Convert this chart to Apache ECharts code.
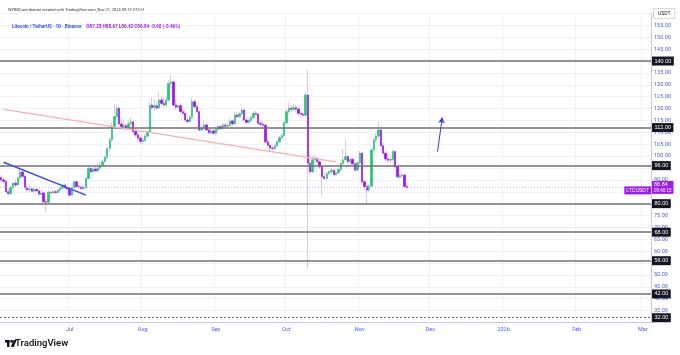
<!DOCTYPE html>
<html><head><meta charset="utf-8">
<script src="https://cdn.jsdelivr.net/npm/echarts@6/dist/echarts.min.js"></script>
<style>html,body{margin:0;padding:0;background:#fff}#c{width:680px;height:355px}</style>
</head><body><div id="c"></div>
<script>
// ---- axis range (categories) ----
const axisStart = '2025-06-02';
const axisEnd = '2026-03-04';
const dataStart = '2025-06-02';
const monthNames = {'01':'2026','02':'Feb','03':'Mar','04':'Apr','05':'May','06':'Jun','07':'Jul','08':'Aug','09':'Sep','10':'Oct','11':'Nov','12':'Dec'};

// ---- daily candles LTC/USDT (Jun 2 -> Nov 21, 2025) ----
const openVals = [91.0,90.0,89.4,85.0,84.2,86.8,88.6,87.9,90.8,93.3,91.5,86.6,85.8,86.2,85.2,86.0,85.4,84.0,84.5,80.8,80.6,84.8,84.6,85.0,84.7,85.6,86.5,87.8,86.6,86.2,
83.6,86.8,89.2,87.2,87.0,86.4,86.8,90.6,94.8,93.4,94.6,93.8,95.0,96.2,97.6,99.4,103.2,106.8,112.6,116.6,120.1,113.5,112.4,112.8,112.0,113.6,114.4,110.3,108.9,107.6,
106.2,106.6,108.4,110.3,121.5,120.4,121.2,120.2,123.6,122.2,121.5,123.6,130.6,131.2,121.5,120.6,121.2,118.7,118.0,115.2,114.6,116.4,122.9,120.8,118.7,111.0,111.8,113.1,111.0,109.8,
110.6,109.6,111.2,112.4,111.6,113.1,112.6,112.9,114.8,113.6,117.3,116.6,117.8,119.4,115.2,114.2,115.0,116.2,118.0,117.6,113.8,113.4,113.0,106.0,104.6,103.4,103.2,104.4,106.0,107.8,
108.6,114.0,118.7,120.1,119.6,120.4,119.8,118.0,117.6,117.2,125.7,97.0,93.4,98.5,99.0,97.6,95.5,91.4,90.6,92.7,93.4,94.0,92.2,93.0,94.4,96.9,98.4,99.8,97.6,98.6,
96.8,94.1,97.2,101.2,89.2,87.2,85.7,87.4,102.6,106.8,108.4,111.0,104.4,101.2,98.8,98.3,98.6,101.9,95.5,91.3,91.8,92.0,87.23];
const closeVals = [90.0,89.4,85.0,84.2,86.8,88.6,87.9,90.8,93.3,91.5,86.6,85.8,86.2,85.2,86.0,85.4,84.0,84.5,80.8,80.6,84.8,84.6,85.0,84.7,85.6,86.5,87.8,86.6,86.2,83.6,
86.8,89.2,87.2,87.0,86.4,86.8,90.6,94.8,93.4,94.6,93.8,95.0,96.2,97.6,99.4,103.2,106.8,112.6,116.6,120.1,113.5,112.4,112.8,112.0,113.6,114.4,110.3,108.9,107.6,106.2,
106.6,108.4,110.3,121.5,120.4,121.2,120.2,123.6,122.2,121.5,123.6,130.6,131.2,121.5,120.6,121.2,118.7,118.0,115.2,114.6,116.4,122.9,120.8,118.7,111.0,111.8,113.1,111.0,109.8,110.6,
109.6,111.2,112.4,111.6,113.1,112.6,112.9,114.8,113.6,117.3,116.6,117.8,119.4,115.2,114.2,115.0,116.2,118.0,117.6,113.8,113.4,113.0,106.0,104.6,103.4,103.2,104.4,106.0,107.8,108.6,
114.0,118.7,120.1,119.6,120.4,119.8,118.0,117.6,117.2,125.7,97.0,93.4,98.5,99.0,97.6,95.5,91.4,90.6,92.7,93.4,94.0,92.2,93.0,94.4,96.9,98.4,99.8,97.6,98.6,96.8,
94.1,97.2,101.2,89.2,87.2,85.7,87.4,102.6,106.8,108.4,111.0,104.4,101.2,98.8,98.3,98.6,101.9,95.5,91.3,91.8,92.0,87.23,86.84];
const lowVals = [89.2,88.5,84.5,83.5,83.8,86.0,87.0,87.5,90.0,90.8,86.0,84.8,85.0,84.6,84.8,84.5,83.2,83.5,79.8,76.6,80.0,84.0,84.2,84.0,84.4,85.0,86.0,86.0,85.4,83.0,
83.2,86.2,86.8,86.2,85.8,85.9,86.4,90.2,92.8,92.6,93.0,93.2,94.4,95.8,97.0,98.8,102.4,106.2,111.8,115.4,112.8,111.2,111.0,110.6,111.4,112.8,109.6,107.8,106.6,105.0,
104.8,106.0,107.8,109.8,119.2,119.0,119.4,119.8,121.0,120.6,120.8,123.0,128.4,120.8,119.4,119.8,117.8,117.2,114.4,113.6,114.0,115.8,120.0,117.8,110.2,110.4,111.2,110.4,109.0,109.2,
108.8,109.0,110.6,110.8,111.2,111.8,111.8,112.4,112.8,113.0,115.8,116.0,117.2,114.6,113.6,113.4,114.4,115.6,116.8,113.0,112.4,112.2,105.2,103.6,101.8,102.4,102.6,103.8,105.4,107.0,
108.0,113.4,117.8,118.6,118.8,118.6,117.2,116.8,116.4,116.8,52.8,92.4,92.8,97.4,96.8,94.6,83.6,89.6,90.0,92.0,92.8,91.4,91.6,92.4,93.8,96.2,97.8,96.8,96.4,95.8,
93.4,93.6,96.6,88.4,86.0,80.1,85.0,86.8,101.8,105.8,107.6,103.6,100.4,98.0,97.2,97.0,98.0,94.8,90.6,90.4,90.8,86.8,86.42];
const highVals = [92.0,91.0,90.0,86.5,87.5,89.2,90.0,91.5,94.2,94.0,92.0,87.5,87.8,87.0,87.2,86.8,86.0,85.5,85.0,82.0,85.5,85.6,85.8,85.8,86.2,87.2,88.5,88.6,87.4,86.8,
87.2,89.8,89.6,88.0,87.8,87.6,91.2,95.6,96.0,95.4,96.2,96.8,97.4,98.6,100.4,104.0,108.0,114.4,122.2,121.2,121.0,116.0,115.4,114.0,114.8,116.2,115.0,111.4,110.0,108.6,
107.8,109.2,111.0,122.8,124.6,124.0,123.0,126.8,125.2,124.8,125.0,132.0,134.1,132.0,123.6,122.4,122.6,120.0,119.0,116.8,117.4,124.6,123.8,121.6,119.2,113.4,114.6,114.2,111.8,111.6,
111.4,112.0,113.4,113.2,114.0,114.2,114.0,115.8,115.6,118.2,118.4,118.8,120.6,120.0,116.4,116.0,117.0,118.8,119.2,118.2,114.8,114.2,113.6,107.0,105.2,104.4,105.2,106.8,108.6,109.6,
115.0,120.0,122.4,121.6,122.0,121.4,120.6,119.0,118.4,127.0,136.2,100.8,100.0,100.6,100.2,98.4,96.0,93.0,93.6,94.4,95.0,94.6,94.0,95.2,97.6,103.0,107.4,100.6,99.6,99.4,
97.4,98.0,102.2,102.0,90.2,88.0,88.2,103.4,107.6,109.8,114.5,112.2,105.6,102.0,100.4,99.8,102.8,102.6,96.4,92.8,93.4,92.6,88.67];

// ---- horizontal levels & drawings ----
const levelValues = [140, 112, 96, 80, 68, 56, 42];
const dashedLevel = 32;
const lastClose = 86.84;
const countdown = '09:40:15';
const blueTrend = [['2025-06-03', 97.4], ['2025-07-08', 83.6]];
const pinkTrend = [['2025-06-03', 119.7], ['2025-10-22', 97.6]];
const arrowLine = [['2025-12-04', 101.85], ['2025-12-06', 116.3]];
const headerText = 'WZRDContributors created with TradingView.com, Nov 21, 2025 09:19 UTC+1';
const symbolText = 'Litecoin / TetherUS · 1D · Binance';
const ohlcText = 'O87.23 H88.67 L86.42 C86.84 -0.40 (-0.46%)';

function fmt(d){return d.toISOString().slice(0,10);}
const categories = [];
for (let d = new Date(axisStart+'T00:00:00Z'); d <= new Date(axisEnd+'T00:00:00Z'); d.setUTCDate(d.getUTCDate()+1)) categories.push(fmt(d));
const offset = categories.indexOf(dataStart);

const wickData = [], bodyData = [];
for (let i = 0; i < offset; i++) { wickData.push('-'); bodyData.push('-'); }
for (let i = 0; i < openVals.length; i++) {
  const o = openVals[i], c = closeVals[i];
  wickData.push([o, c, lowVals[i], highVals[i]]);
  bodyData.push([o, c, Math.min(o, c), Math.max(o, c)]);
}

const UP = '#22d06a', DOWN = '#9f10f4', WICK = '#dcc6f8', AXISC = '#4a5cf2';
const monthStart = (idx, val) => val.slice(8) === '01';

const levelLines = levelValues.map(v => ({
  yAxis: v,
  lineStyle: {color: '#707070', width: 1.6, type: 'solid'},
  label: {show: true, position: 'end', distance: 1, formatter: v.toFixed(2), backgroundColor: '#131722', color: '#fff', fontSize: 5.5, padding: [1.5, 2.5]}
}));
levelLines.push({
  yAxis: dashedLevel,
  lineStyle: {color: '#707070', width: 1, type: [2, 2]},
  label: {show: true, position: 'end', distance: 1, formatter: dashedLevel.toFixed(2), backgroundColor: '#131722', color: '#fff', fontSize: 5.5, padding: [1.5, 2.5]}
});
levelLines.push({
  yAxis: lastClose,
  lineStyle: {color: '#e2a9f7', width: 1, type: [1, 2]},
  label: {show: true, position: 'end', distance: 1, formatter: '{p|' + lastClose.toFixed(2) + '}\n{t|' + countdown + '}',
    backgroundColor: '#9c1cf0', color: '#fff', padding: [1, 2],
    rich: {p: {fontSize: 5.5, color: '#fff', lineHeight: 6}, t: {fontSize: 4.5, color: '#fff', lineHeight: 5}}}
});
levelLines.push({
  yAxis: lastClose,
  lineStyle: {color: '#e2a9f7', width: 1, type: [1, 2]},
  label: {show: true, position: 'insideEndTop', distance: [0, -7], formatter: 'LTCUSDT', backgroundColor: '#9c1cf0', color: '#fff', fontSize: 5, padding: [1.5, 2]}
});
levelLines.push([
  {coord: blueTrend[0], lineStyle: {color: '#3b4ef0', width: 1.5, type: 'solid'}, label: {show: false}},
  {coord: blueTrend[1]}
]);
levelLines.push([
  {coord: pinkTrend[0], lineStyle: {color: '#f5b0b0', width: 1.3, type: 'solid'}, label: {show: false}},
  {coord: pinkTrend[1]}
]);
levelLines.push([
  {coord: arrowLine[0], symbol: 'none', lineStyle: {color: '#2a3ff0', width: 1, type: 'solid'}, label: {show: false}},
  {coord: arrowLine[1], symbol: 'arrow', symbolSize: [5, 6]}
]);

const chart = echarts.init(document.getElementById('c'), null, {renderer: 'canvas'});
chart.setOption({
  animation: false,
  backgroundColor: '#ffffff',
  title: [
    {text: headerText, left: 3, top: 3, textStyle: {fontSize: 4, fontWeight: 'normal', color: '#333', fontFamily: 'Roboto'}},
    {text: '{s|' + symbolText + '} {o|' + ohlcText + '}', left: 7, top: 13,
      textStyle: {rich: {s: {fontSize: 4.6, color: '#3b4ef0', fontFamily: 'Roboto'}, o: {fontSize: 4.6, color: '#a016f2', fontFamily: 'Roboto'}}}}
  ],
  grid: {left: 0, right: 29, top: 13.5, bottom: 32.5, containLabel: false},
  xAxis: {
    type: 'category', data: categories, boundaryGap: true,
    axisLine: {show: true, lineStyle: {color: '#c3c9f7', width: 1}},
    axisTick: {show: false},
    axisLabel: {interval: monthStart, formatter: v => monthNames[v.slice(5, 7)], color: AXISC, fontSize: 5.5, margin: 4, fontFamily: 'Roboto'},
    splitLine: {show: true, interval: monthStart, lineStyle: {color: '#f0f2f8', width: 1}}
  },
  yAxis: {
    type: 'value', position: 'right', min: 30, max: 160, interval: 5,
    axisLine: {show: true, lineStyle: {color: '#c3c9f7', width: 1}},
    axisTick: {show: false},
    splitLine: {show: true, lineStyle: {color: '#f0f2f8', width: 1}},
    axisLabel: {
      color: AXISC, fontSize: 5.5, margin: 3, fontFamily: 'Roboto',
      formatter: v => {
        if (v === 160) return '{u|USDT}';
        if (v <= 30) return '';
        const marks = levelValues.concat([dashedLevel, lastClose]);
        for (const m of marks) if (Math.abs(v - m) < 1.9) return '';
        return v.toFixed(2);
      },
      rich: {u: {fontSize: 5, color: '#131722', backgroundColor: '#fff', borderColor: '#c8cbd6', borderWidth: 0.8, padding: [2, 4]}}
    }
  },
  series: [
    {
      type: 'candlestick', data: wickData, barWidth: '78%', z: 2,
      itemStyle: {color: WICK, color0: WICK, borderColor: WICK, borderColor0: WICK, borderWidth: 1}
    },
    {
      type: 'candlestick', data: bodyData, barWidth: '78%', z: 3,
      itemStyle: {color: UP, color0: DOWN, borderColor: UP, borderColor0: DOWN, borderWidth: 0.6},
      markLine: {silent: true, symbol: 'none', animation: false, data: levelLines}
    }
  ],
  graphic: [
    {type: 'group', left: 5, top: 340, children: [
      {type: 'rect', shape: {x: 0, y: 0, width: 4.5, height: 2.6}, style: {fill: '#131722'}},
      {type: 'rect', shape: {x: 2, y: 0, width: 2.5, height: 7}, style: {fill: '#131722'}},
      {type: 'circle', shape: {cx: 6.6, cy: 1.4, r: 1.4}, style: {fill: '#131722'}},
      {type: 'polygon', shape: {points: [[8.6, 0], [11.6, 0], [8.8, 7], [5.8, 7]]}, style: {fill: '#131722'}}
    ]},
    {type: 'text', left: 15, top: 338.5, style: {text: 'TradingView', fontSize: 9.5, fontWeight: 600, fill: '#131722', fontFamily: 'Roboto'}}
  ]
});
</script></body></html>
